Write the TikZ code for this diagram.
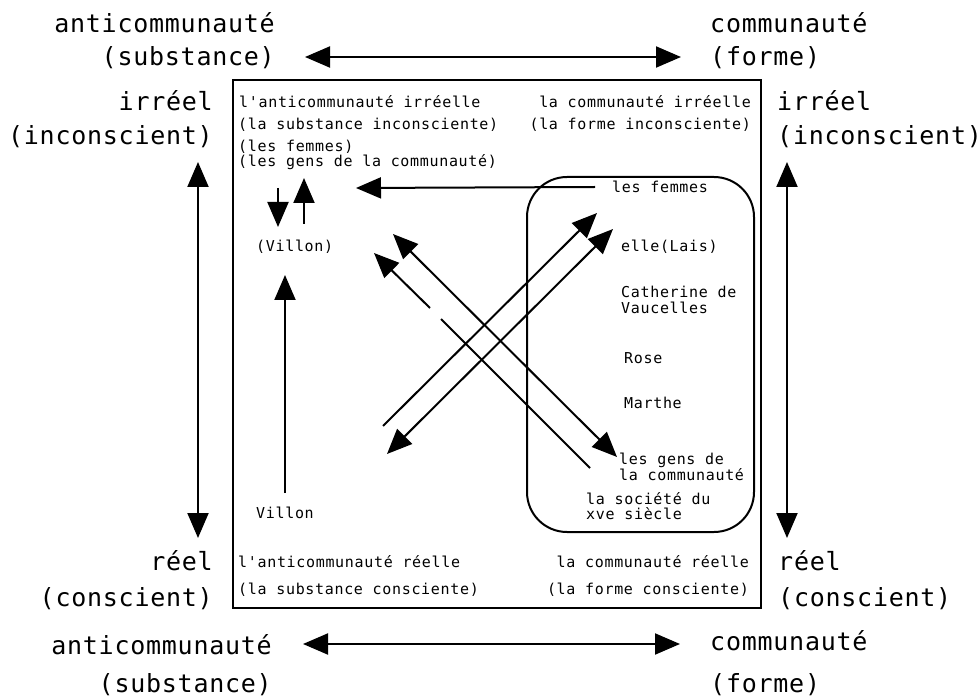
\documentclass[tikz,border=0pt]{standalone}
\usepackage{fontspec}
\usetikzlibrary{arrows.meta}
\newfontfamily\bigfont[LetterSpace=3]{DejaVu Sans Mono}
\newfontfamily\smallfont[LetterSpace=4.5]{DejaVu Sans Mono}

\begin{document}
\begin{tikzpicture}[x=1pt, y=-1pt,
        big/.style={font=\bigfont\fontsize{25}{25}\selectfont, inner sep=0pt},
        small/.style={font=\smallfont\fontsize{15}{15.5}\selectfont, inner sep=0pt, align=left},
        arr/.style={line width=2pt, -{Triangle[length=25pt,width=21pt]}},
        dblarr/.style={line width=2pt, {Triangle[length=25pt,width=21pt]}-{Triangle[length=25pt,width=21pt]}}]
        \useasboundingbox (0,0) rectangle (980,700);

        % Main box and group of women
        \draw[line width=2.5pt] (233,80) rectangle (761,608);
        \draw[line width=2pt, rounded corners=40pt] (527,177) rectangle (754,532);

        % Outer labels
        \node[big, anchor=east] (topsub) at (275,23) {anticommunauté};
        \node[big, anchor=east] (topsubb) at (275,58) {(substance)};
        \node[big, anchor=west] (topform) at (710,23) {communauté};
        \node[big, anchor=west] (topformb) at (710,58) {(forme)};
        \node[big, anchor=east] (lirr) at (213,101) {irréel};
        \node[big, anchor=east] (lirrb) at (213,137) {(inconscient)};
        \node[big, anchor=east] (lreel) at (213,561) {réel};
        \node[big, anchor=east] (lreelb) at (213,599) {(conscient)};
        \node[big, anchor=west] (rirr) at (777,101) {irréel};
        \node[big, anchor=west] (rirrb) at (777,137) {(inconscient)};
        \node[big, anchor=west] (rreel) at (778,561) {réel};
        \node[big, anchor=west] (rreelb) at (778,599) {(conscient)};
        \node[big, anchor=east] (botsub) at (272,645) {anticommunauté};
        \node[big, anchor=east] (botsubb) at (272,685) {(substance)};
        \node[big, anchor=west] (botform) at (710,641) {communauté};
        \node[big, anchor=west] (botformb) at (710,685) {(forme)};

        % Outer axes
        \coordinate (ta) at (305,57);  \coordinate (tb) at (681,57);
        \coordinate (ba) at (303,644); \coordinate (bb) at (680,644);
        \coordinate (la) at (198,162); \coordinate (lb) at (198,538);
        \coordinate (ra) at (787,162); \coordinate (rb) at (787,538);
        \foreach \a/\b in {ta/tb, ba/bb, la/lb, ra/rb} {
            \draw[dblarr] (\a) -- (\b);
        }

        % Quadrant labels
        \node[small, anchor=west] (airr) at (239,102) {l'anticommunauté irréelle};
        \node[small, anchor=west] (airrb) at (238,125) {(la substance inconsciente)};
        \node[small, anchor=west] (airrc) at (238,147) {(les femmes)};
        \node[small, anchor=west] (airrd) at (238,162) {(les gens de la communauté)};
        \node[small, anchor=east] (cirr) at (751,102) {la communauté irréelle};
        \node[small, anchor=east] (cirrb) at (751,125) {(la forme inconsciente)};
        \node[small, anchor=west] (areel) at (238,562) {l'anticommunauté réelle};
        \node[small, anchor=west] (areelb) at (238,590) {(la substance consciente)};
        \node[small, anchor=east] (creel) at (749,562) {la communauté réelle};
        \node[small, anchor=east] (creelb) at (749,590) {(la forme consciente)};

        % Villon
        \node[small, anchor=west] (villonb) at (256,247) {(Villon)};
        \node[small, anchor=west] (villon) at (256,513) {Villon};

        % Society
        \node[small, anchor=west] (femmes) at (612,187) {les femmes};
        \node[small, anchor=west] (lais) at (621,247) {elle(Lais)};
        \node[small, anchor=west] (cath) at (621,300) {Catherine de\\Vaucelles};
        \node[small, anchor=west] (rose) at (624,358) {Rose};
        \node[small, anchor=west] (marthe) at (624,403) {Marthe};
        \node[small, anchor=west] (gens) at (619,467) {les gens de\\la communauté};
        \node[small, anchor=west] (societe) at (586,506) {la société du\\xve siècle};

        % Arrows near Villon
        \coordinate (d1) at (278,188); \coordinate (d2) at (278,227);
        \coordinate (u1) at (304,224); \coordinate (u2) at (304,178);
        \coordinate (v1) at (285,493); \coordinate (v2) at (285,275);
        \coordinate (f2) at (356,188);
        \draw[arr] (d1) -- (d2);
        \draw[arr] (u1) -- (u2);
        \draw[arr] (v1) -- (v2);
        \draw[arr] ([xshift=-17pt]femmes.west) -- (f2);

        % Crossing arrows
        \coordinate (p1) at (383,426); \coordinate (p2) at (597,213);
        \coordinate (q1) at (387,454); \coordinate (q2) at (613,229);
        \coordinate (s1) at (393,234); \coordinate (s2) at (617,457);
        \coordinate (c1) at (590,468); \coordinate (c2) at (441,319);
        \coordinate (c3) at (430,308); \coordinate (c4) at (374,253);
        \draw[arr] (p1) -- (p2);
        \draw[dblarr] (q1) -- (q2);
        \draw[dblarr] (s1) -- (s2);
        \draw[line width=2pt] (c1) -- (c2);
        \draw[arr] (c3) -- (c4);

    \end{tikzpicture}
\end{document}
